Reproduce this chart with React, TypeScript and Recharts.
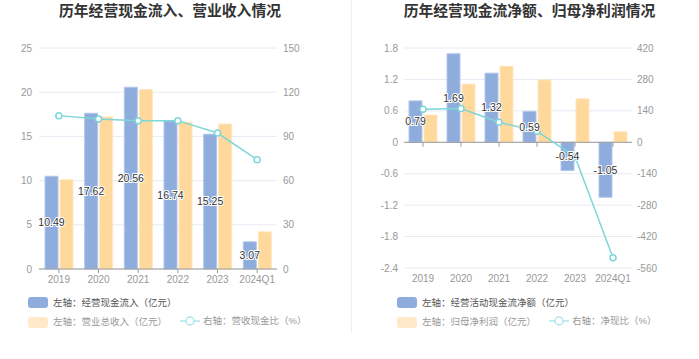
import React from 'react';
import {
  ComposedChart,
  Bar,
  Line,
  XAxis,
  YAxis,
  CartesianGrid,
  LabelList,
  ReferenceLine,
} from 'recharts';

const years = ['2019', '2020', '2021', '2022', '2023', '2024Q1'];

// Chart 1
const cashInflow = [10.49, 17.62, 20.56, 16.74, 15.25, 3.07];
const revenue = [10.1, 17.2, 20.3, 16.6, 16.4, 4.2];
const cashRevenueRatio = [104.1, 101.8, 100.7, 100.7, 92.3, 74.2];
const leftTicks1 = [0, 5, 10, 15, 20, 25];
const rightTicks1 = [0, 30, 60, 90, 120, 150];

// Chart 2
const netCash = [0.79, 1.69, 1.32, 0.59, -0.54, -1.05];
const netProfit = [0.52, 1.11, 1.45, 1.19, 0.83, 0.2];
const netCashRatio = [147, 150, 89, 49, -64, -514];
const leftTicks2 = [-2.4, -1.8, -1.2, -0.6, 0, 0.6, 1.2, 1.8];
const rightTicks2 = [-560, -420, -280, -140, 0, 140, 280, 420];

const data1 = years.map((y, i) => ({
  year: y,
  inflow: cashInflow[i],
  revenue: revenue[i],
  ratio: cashRevenueRatio[i],
}));

const data2 = years.map((y, i) => ({
  year: y,
  net: netCash[i],
  profit: netProfit[i],
  ratio: netCashRatio[i],
}));

const FONT = "'Liberation Sans','Noto Sans CJK SC',sans-serif";
const BLUE = '#8eacdc';
const BLUE_B = '#b3c7ea';
const YELLOW = '#ffd89b';
const YELLOW_B = '#ffe6c0';
const TEAL = '#7dd6d8';
const GRID = '#e6eaf3';
const AXIS = '#999';
const tickStyle = { fill: '#999', fontSize: 10, fontFamily: FONT };

const labelStyle: any = {
  fill: '#333',
  fontSize: 10.5,
  fontFamily: FONT,
  stroke: '#fff',
  strokeWidth: 2,
  paintOrder: 'stroke',
};

function fmt(v: any) {
  return Number(v).toFixed(2);
}

function LegendRect({ x, y, color, text, textColor }: any) {
  return (
    <div style={{ position: 'absolute', left: x, top: y - 6, height: 12, display: 'flex', alignItems: 'center' }}>
      <div style={{ width: 20, height: 11, borderRadius: 3, background: color }} />
      <span style={{ marginLeft: 5, fontSize: 9.5, color: textColor, fontFamily: FONT, whiteSpace: 'nowrap', lineHeight: '12px' }}>{text}</span>
    </div>
  );
}

function LegendLine({ x, y, color, text, textColor }: any) {
  return (
    <div style={{ position: 'absolute', left: x, top: y - 6, height: 12, display: 'flex', alignItems: 'center' }}>
      <svg width={20} height={12}>
        <line x1={0} y1={6} x2={20} y2={6} stroke={color} strokeWidth={1.5} />
        <circle cx={10} cy={6} r={4} fill="#fff" stroke={color} strokeWidth={1.5} />
      </svg>
      <span style={{ marginLeft: 3, fontSize: 9.5, color: textColor, fontFamily: FONT, whiteSpace: 'nowrap', lineHeight: '12px' }}>{text}</span>
    </div>
  );
}

function Title({ cx, text }: any) {
  return (
    <div
      style={{
        position: 'absolute',
        left: cx - 150,
        width: 300,
        top: 1,
        height: 20,
        lineHeight: '20px',
        textAlign: 'center',
        fontSize: 14.8,
        fontWeight: 'bold',
        color: '#333',
        fontFamily: FONT,
        whiteSpace: 'nowrap',
      }}
    >
      {text}
    </div>
  );
}

export default function App() {
  return (
    <div style={{ position: 'absolute', left: 0, top: 0, width: 699, height: 359, background: '#fff', overflow: 'hidden', fontFamily: FONT }}>
      {/* Chart 1 */}
      <div style={{ position: 'absolute', left: 0, top: 0 }}>
        <ComposedChart
          width={349}
          height={359}
          data={data1}
          margin={{ top: 48, right: 32, bottom: 60, left: 0 }}
          barSize={13}
          barGap={2}
        >
          <CartesianGrid vertical={false} stroke={GRID} yAxisId="left" />
          <XAxis
            dataKey="year"
            height={30}
            tick={tickStyle}
            axisLine={{ stroke: AXIS }}
            tickLine={{ stroke: AXIS }}
            tickSize={4}
            tickMargin={3}
            interval={0}
          />
          <YAxis
            yAxisId="left"
            orientation="left"
            width={39}
            domain={[0, 25]}
            ticks={leftTicks1}
            axisLine={false}
            tickLine={false}
            tick={tickStyle}
            tickSize={5}
            tickMargin={2}
          />
          <YAxis
            yAxisId="right"
            orientation="right"
            width={40}
            domain={[0, 150]}
            ticks={rightTicks1}
            axisLine={false}
            tickLine={false}
            tick={tickStyle}
            tickSize={4}
            tickMargin={2}
          />
          <Bar yAxisId="left" dataKey="inflow" fill={BLUE} stroke={BLUE_B} strokeWidth={1} isAnimationActive={false}>
            <LabelList dataKey="inflow" position="center" formatter={fmt} style={labelStyle} />
          </Bar>
          <Bar yAxisId="left" dataKey="revenue" fill={YELLOW} stroke={YELLOW_B} strokeWidth={1} isAnimationActive={false} />
          <Line
            yAxisId="right"
            dataKey="ratio"
            stroke={TEAL}
            strokeWidth={1.5}
            dot={{ r: 3, fill: '#fff', stroke: TEAL, strokeWidth: 1.5 }}
            isAnimationActive={false}
          />
        </ComposedChart>
      </div>
      <Title cx={170} text="历年经营现金流入、营业收入情况" />
      <LegendRect x={28} y={302.5} color={BLUE} text="左轴：经营现金流入（亿元）" textColor="#555" />
      <LegendRect x={28} y={322} color="#ffe9c9" text="左轴：营业总收入（亿元）" textColor="#999" />
      <LegendLine x={180} y={321} color="#aee6e8" text="右轴：营收现金比（%）" textColor="#999" />

      {/* separator */}
      <div style={{ position: 'absolute', left: 351, top: 0, width: 1, height: 333, background: '#f0f0f0' }} />

      {/* Chart 2 */}
      <div style={{ position: 'absolute', left: 350, top: 0 }}>
        <ComposedChart
          width={349}
          height={359}
          data={data2}
          margin={{ top: 48, right: 27, bottom: 61, left: 0 }}
          barSize={13}
          barGap={2}
        >
          <CartesianGrid vertical={false} stroke={GRID} yAxisId="left" />
          <XAxis
            dataKey="year"
            height={30}
            tick={tickStyle}
            axisLine={false}
            tickLine={false}
            tickSize={4}
            tickMargin={3}
            interval={0}
          />
          <XAxis xAxisId="lbl" dataKey="year" hide />
          <YAxis
            yAxisId="left"
            orientation="left"
            width={54}
            domain={[-2.4, 1.8]}
            ticks={leftTicks2}
            axisLine={false}
            tickLine={false}
            tick={tickStyle}
            tickSize={4}
            tickMargin={2}
          />
          <YAxis
            yAxisId="right"
            orientation="right"
            width={40}
            domain={[-560, 420]}
            ticks={rightTicks2}
            axisLine={false}
            tickLine={false}
            tick={tickStyle}
            tickSize={3}
            tickMargin={2}
          />
          <Bar yAxisId="left" dataKey="net" fill={BLUE} stroke={BLUE_B} strokeWidth={1} isAnimationActive={false} />
          <Bar yAxisId="left" dataKey="profit" fill={YELLOW} stroke={YELLOW_B} strokeWidth={1} isAnimationActive={false} />
          <ReferenceLine yAxisId="left" y={0} stroke={AXIS} />
          {years.map((y) => (
            <ReferenceLine
              key={y}
              yAxisId="left"
              segment={[{ x: y, y: 0 }, { x: y, y: -0.085 }]}
              stroke={AXIS}
            />
          ))}
          <Line
            yAxisId="right"
            dataKey="ratio"
            stroke={TEAL}
            strokeWidth={1.5}
            dot={{ r: 3, fill: '#fff', stroke: TEAL, strokeWidth: 1.5 }}
            isAnimationActive={false}
          />
          <Bar xAxisId="lbl" yAxisId="left" dataKey="net" fill="none" stroke="none" isAnimationActive={false}>
            <LabelList dataKey="net" position="center" formatter={fmt} style={labelStyle} />
          </Bar>
          <Bar xAxisId="lbl" yAxisId="left" dataKey="profit" fill="none" stroke="none" isAnimationActive={false} />
        </ComposedChart>
      </div>
      <Title cx={529.5} text="历年经营现金流净额、归母净利润情况" />
      <LegendRect x={397} y={302.5} color={BLUE} text="左轴：经营活动现金流净额（亿元）" textColor="#555" />
      <LegendRect x={397} y={322} color="#ffe9c9" text="左轴：归母净利润（亿元）" textColor="#999" />
      <LegendLine x={549} y={321} color="#aee6e8" text="右轴：净现比（%）" textColor="#999" />
    </div>
  );
}
